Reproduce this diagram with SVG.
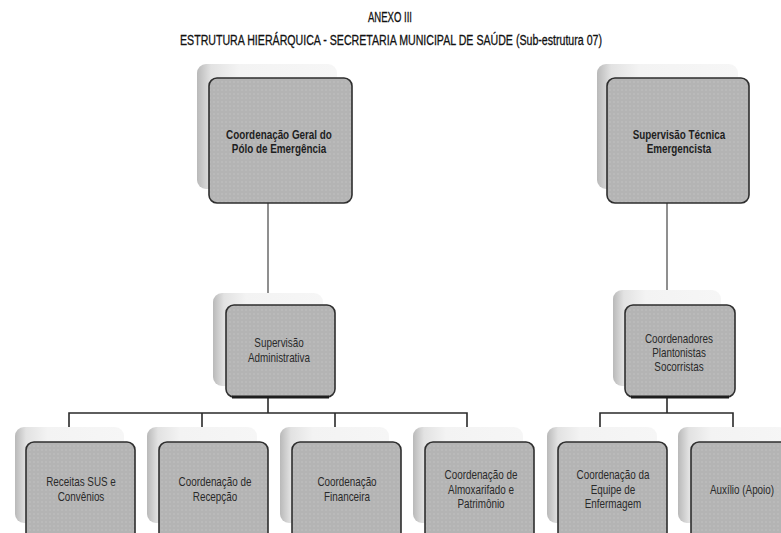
<svg xmlns="http://www.w3.org/2000/svg" width="781" height="533" viewBox="0 0 781 533">
<defs>
<linearGradient id="backg" x1="0" y1="0" x2="1" y2="0">
<stop offset="0" stop-color="#b9b9b9"/>
<stop offset="0.1" stop-color="#e2e2e2"/>
<stop offset="0.3" stop-color="#f3f3f3"/>
<stop offset="1" stop-color="#f6f6f6"/>
</linearGradient>
<pattern id="dots" width="4" height="4" patternUnits="userSpaceOnUse">
<rect width="4" height="4" fill="#b4b4b4"/>
<circle cx="2" cy="2" r="0.8" fill="#c3c3c3"/>
</pattern>
<style>
.back{fill:url(#backg);}
.front{fill:url(#dots);stroke:#2e2e2e;stroke-width:1.6;}
.base{stroke:#1e1e1e;stroke-width:3;}
.t{font-family:"Liberation Sans",Arial,sans-serif;font-size:12.5px;fill:#2a2a2a;text-anchor:middle;}
.tb{font-family:"Liberation Sans",Arial,sans-serif;font-size:12.5px;fill:#1e1e1e;text-anchor:middle;font-weight:bold;}
.title{font-family:"Liberation Sans",Arial,sans-serif;font-size:14px;fill:#111;stroke:#111;stroke-width:0.3;text-anchor:middle;}
.c{fill:none;stroke:#2a2a2a;stroke-width:1.6;}
.cv{fill:none;stroke:#6a6a6a;stroke-width:1.5;}
</style>
</defs>
<rect width="781" height="533" fill="#ffffff"/>
<text class="title" x="390" y="22" textLength="44" lengthAdjust="spacingAndGlyphs">ANEXO III</text>
<text class="title" x="391" y="45" textLength="422" lengthAdjust="spacingAndGlyphs">ESTRUTURA HIERÁRQUICA - SECRETARIA MUNICIPAL DE SAÚDE (Sub-estrutura 07)</text>

<g id="connectors">
<path class="cv" d="M268 203V293"/>
<path class="cv" d="M667 203V290"/>
<path class="c" d="M268 398V413M69 427V413H467V427M202 413V427M335 413V427"/>
<path class="c" d="M667 398V413M600 427V413H733V427"/>
</g>

<g id="coord-geral">
<rect class="back" x="197" y="64" width="140" height="125" rx="9"/>
<rect class="front" x="209" y="78" width="143" height="125" rx="8"/>
<g transform="translate(279,0) scale(0.79,1)">
<text class="tb" x="0" y="139">Coordenação Geral do</text>
<text class="tb" x="0" y="153">Pólo de Emergência</text>
</g>
</g>

<g id="sup-tecnica">
<rect class="back" x="597" y="64" width="141" height="125" rx="9"/>
<rect class="front" x="607" y="78" width="142" height="125" rx="8"/>
<g transform="translate(679,0) scale(0.79,1)">
<text class="tb" x="0" y="139">Supervisão Técnica</text>
<text class="tb" x="0" y="153">Emergencista</text>
</g>
</g>

<g id="sup-admin">
<rect class="back" x="213" y="293" width="110" height="93" rx="9"/>
<rect class="front" x="226" y="305" width="109" height="92" rx="8"/>
<path class="base" d="M232 397H329"/>
<g transform="translate(279,0) scale(0.79,1)">
<text class="t" x="0" y="347">Supervisão</text>
<text class="t" x="0" y="362">Administrativa</text>
</g>
</g>

<g id="coordenadores">
<rect class="back" x="613" y="290" width="108" height="96" rx="9"/>
<rect class="front" x="625" y="305" width="110" height="92" rx="8"/>
<path class="base" d="M631 397H729"/>
<g transform="translate(679,0) scale(0.79,1)">
<text class="t" x="0" y="343">Coordenadores</text>
<text class="t" x="0" y="357">Plantonistas</text>
<text class="t" x="0" y="371">Socorristas</text>
</g>
</g>

<g id="receitas">
<rect class="back" x="15" y="427" width="109" height="96" rx="9"/>
<rect class="front" x="26" y="442" width="109" height="100" rx="8"/>
<g transform="translate(81,0) scale(0.79,1)">
<text class="t" x="0" y="486">Receitas SUS e</text>
<text class="t" x="0" y="501">Convênios</text>
</g>
</g>

<g id="recepcao">
<rect class="back" x="147" y="427" width="110" height="96" rx="9"/>
<rect class="front" x="159" y="442" width="109" height="100" rx="8"/>
<g transform="translate(215,0) scale(0.79,1)">
<text class="t" x="0" y="486">Coordenação de</text>
<text class="t" x="0" y="501">Recepção</text>
</g>
</g>

<g id="financeira">
<rect class="back" x="280" y="427" width="109" height="96" rx="9"/>
<rect class="front" x="292" y="442" width="109" height="100" rx="8"/>
<g transform="translate(347,0) scale(0.79,1)">
<text class="t" x="0" y="486">Coordenação</text>
<text class="t" x="0" y="501">Financeira</text>
</g>
</g>

<g id="almoxarifado">
<rect class="back" x="413" y="427" width="110" height="96" rx="9"/>
<rect class="front" x="425" y="442" width="109" height="100" rx="8"/>
<g transform="translate(481,0) scale(0.79,1)">
<text class="t" x="0" y="479">Coordenação de</text>
<text class="t" x="0" y="494">Almoxarifado e</text>
<text class="t" x="0" y="508">Patrimônio</text>
</g>
</g>

<g id="enfermagem">
<rect class="back" x="547" y="427" width="110" height="96" rx="9"/>
<rect class="front" x="558" y="442" width="109" height="100" rx="8"/>
<g transform="translate(613,0) scale(0.79,1)">
<text class="t" x="0" y="479">Coordenação da</text>
<text class="t" x="0" y="494">Equipe de</text>
<text class="t" x="0" y="508">Enfermagem</text>
</g>
</g>

<g id="auxilio">
<rect class="back" x="678" y="427" width="110" height="96" rx="9"/>
<rect class="front" x="691" y="442" width="109" height="100" rx="8"/>
<g transform="translate(742,0) scale(0.79,1)">
<text class="t" x="0" y="494">Auxílio (Apoio)</text>
</g>
</g>
</svg>
